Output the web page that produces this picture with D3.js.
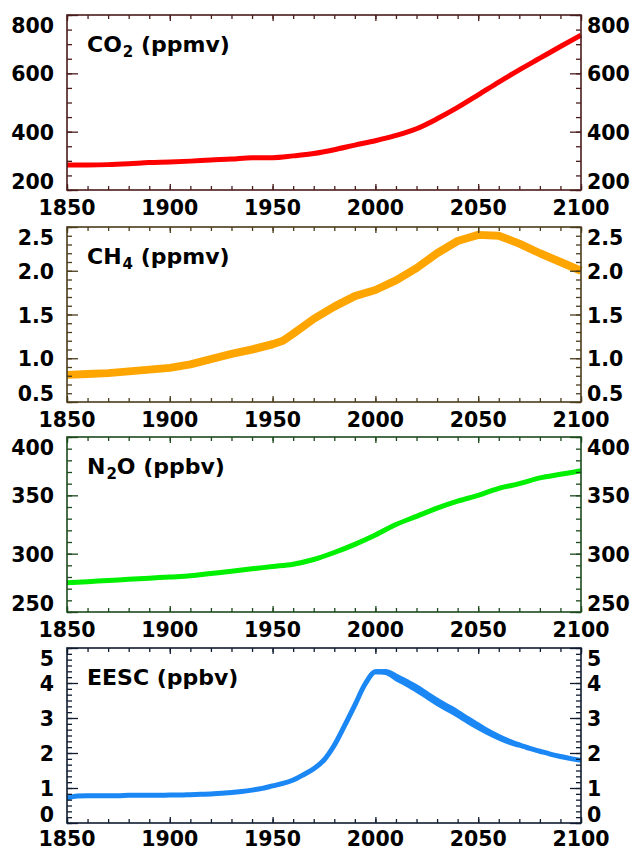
<!DOCTYPE html>
<html>
<head>
<meta charset="utf-8">
<script src="https://cdn.jsdelivr.net/npm/d3@7"></script>
<style>
  html, body { margin: 0; padding: 0; background: #fff; }
  svg { display: block; }
  text { font-family: "DejaVu Sans", sans-serif; font-weight: bold; fill: #000; }
</style>
</head>
<body>
<svg id="chart" width="636" height="852"></svg>
<script>
// ---- data ----------------------------------------------------------------
const decadeYears = [1850,1860,1870,1880,1890,1900,1910,1920,1930,1940,1950,1960,1970,
                     1980,1990,2000,2010,2020,2030,2040,2050,2060,2070,2080,2090,2100];

// CO2 (ppmv)
const co2 = [286,286,287,290,294,296,299,303,306,311,311,317,325,
             338,354,369,387,410,444,483,526,570,612,652,692,731];

// CH4 (ppmv)
const ch4Years = [1850,1860,1870,1880,1890,1900,1910,1920,1930,1940,1950,1955,1960,1970,
                  1980,1990,2000,2010,2020,2030,2040,2050,2060,2070,2080,2090,2100];
const ch4 = [0.81,0.82,0.83,0.85,0.87,0.89,0.93,0.99,1.05,1.10,1.16,1.20,1.28,1.45,
             1.59,1.71,1.78,1.89,2.03,2.20,2.34,2.41,2.40,2.31,2.20,2.10,2.00];

// N2O (ppbv)
const n2o = [275,276,277,278,279,280,281,283,285,287,289,291,295,
             301,308,316,325,332,339,345,350,356,360,365,368,371];

// EESC (ppbv), 5-year steps
const eescYears = d3.range(1850, 2101, 5);
const eesc = [0.71,0.77,0.78,0.78,0.78,0.78,0.79,0.79,0.79,0.79,
              0.80,0.80,0.81,0.82,0.83,0.85,0.87,0.90,0.94,0.99,
              1.06,1.13,1.23,1.38,1.55,1.80,2.22,2.78,3.37,3.97,
              4.32,4.33,4.20,4.05,3.89,3.70,3.51,3.34,3.17,2.98,
              2.80,2.62,2.47,2.34,2.23,2.13,2.05,1.97,1.90,1.84,1.79];
// lower edge of the EESC spread
const eescLowYears = [2000,2005,2010,2015,2020,2025,2030,2035,2040,2045,2050,2055,2060,2065,2070];
const eescLow = [4.32,4.30,4.13,3.97,3.80,3.61,3.42,3.25,3.08,2.90,2.73,2.57,2.43,2.31,2.22];

// axis ticks
const yearMajor = [1850,1900,1950,2000,2050,2100];
const co2Major = [200,400,600,800];
const ch4Major = [0.5,1.0,1.5,2.0,2.5];
const n2oMajor = [250,300,350,400];
const eescMajor = [0,1,2,3,4,5];

// ---- layout --------------------------------------------------------------
const svg = d3.select("#chart");
const left = 67, right = 581, panelH = 175;
const x = d3.scaleLinear().domain([1850, 2100]).range([left, right]);

const panels = [
  { top: 15,  title: [["CO",0],["2",1],[" (ppmv)",0]], series: [[decadeYears, co2]],
    domain: [200, 800], major: co2Major, minorStep: 50, fmt: d3.format("d"),
    color: "#ff0000", width: 5, axis: "#4a1c1c", curve: d3.curveMonotoneX },
  { top: 227, title: [["CH",0],["4",1],[" (ppmv)",0]], series: [[ch4Years, ch4]],
    domain: [0.5, 2.5], major: ch4Major, minorStep: 0.1, fmt: d3.format(".1f"),
    color: "#ffa500", width: 8, axis: "#4a3c1c", curve: d3.curveLinear },
  { top: 437, title: [["N",0],["2",1],["O (ppbv)",0]], series: [[decadeYears, n2o]],
    domain: [250, 400], major: n2oMajor, minorStep: 10, fmt: d3.format("d"),
    color: "#00f000", width: 5, axis: "#1c4a1c", curve: d3.curveMonotoneX },
  { top: 648, title: [["EESC (ppbv)",0]], series: [[eescYears, eesc],[eescLowYears, eescLow]],
    domain: [0, 5], major: eescMajor, minorStep: 1/6, fmt: d3.format("d"),
    color: "#1a87f5", width: 5, axis: "#101c30", curve: d3.curveMonotoneX }
];

const yearMinor = d3.range(0, 26).map(i => 1850 + i * 10);

panels.forEach(p => {
  const bottom = p.top + panelH;
  const y = d3.scaleLinear().domain(p.domain).range([bottom, p.top]);
  const nMinor = Math.round((p.domain[1] - p.domain[0]) / p.minorStep);
  const minor = d3.range(0, nMinor + 1).map(i => p.domain[0] + i * p.minorStep);
  const g = svg.append("g");

  // data lines
  p.series.forEach(([yrs, vals]) => {
    const line = d3.line().x((d, i) => x(yrs[i])).y(d => y(d)).curve(p.curve);
    g.append("path").datum(vals)
      .attr("d", line)
      .attr("fill", "none")
      .attr("stroke", p.color)
      .attr("stroke-width", p.width)
      .attr("stroke-linejoin", "round")
      .attr("stroke-linecap", "butt");
  });

  // inward-pointing ticks on all four sides
  const tickAxis = (axisFn, scale, values, size, tx, ty) => {
    const a = g.append("g").attr("transform", `translate(${tx},${ty})`)
      .call(axisFn(scale).tickValues(values).tickSize(size).tickFormat(""));
    a.select(".domain").remove();
    a.selectAll("line").attr("stroke", p.axis).attr("stroke-width", 1.3);
  };
  tickAxis(d3.axisRight, y, minor, 5, left, 0);
  tickAxis(d3.axisRight, y, p.major, 11, left, 0);
  tickAxis(d3.axisLeft, y, minor, 5, right, 0);
  tickAxis(d3.axisLeft, y, p.major, 11, right, 0);
  tickAxis(d3.axisBottom, x, yearMinor, 4, 0, p.top);
  tickAxis(d3.axisBottom, x, yearMajor, 6, 0, p.top);
  tickAxis(d3.axisTop, x, yearMinor, 4, 0, bottom);
  tickAxis(d3.axisTop, x, yearMajor, 6, 0, bottom);

  // frame
  g.append("rect")
    .attr("x", left).attr("y", p.top)
    .attr("width", right - left).attr("height", panelH)
    .attr("fill", "none").attr("stroke", p.axis).attr("stroke-width", 1.6);

  // y labels on both sides; end labels kept inside the frame height
  const labelY = v => Math.max(p.top + 10, Math.min(bottom - 9, y(v) + 0.5)) + 7.5;
  [[54, "end"], [587, "start"]].forEach(([lx, anchor]) => {
    g.selectAll(null).data(p.major).enter().append("text")
      .attr("x", lx).attr("y", labelY)
      .attr("text-anchor", anchor)
      .attr("font-size", 20.5)
      .text(p.fmt);
  });

  // x labels (kept clear of the page's lower edge)
  g.selectAll(null).data(yearMajor).enter().append("text")
    .attr("x", d => x(d)).attr("y", Math.min(bottom + 25, 846))
    .attr("text-anchor", "middle")
    .attr("font-size", 20.5)
    .text(d => d);

  // panel title with subscript
  const t = g.append("text").attr("x", 87).attr("y", p.top + 37).attr("font-size", 22);
  p.title.forEach(([s, sub]) => {
    const span = t.append("tspan").text(s);
    if (sub) span.attr("font-size", 15).attr("dy", 5).attr("dx", 1);
    else if (t.selectAll("tspan").size() > 1) span.attr("dy", -5);
  });
});
</script>
</body>
</html>
